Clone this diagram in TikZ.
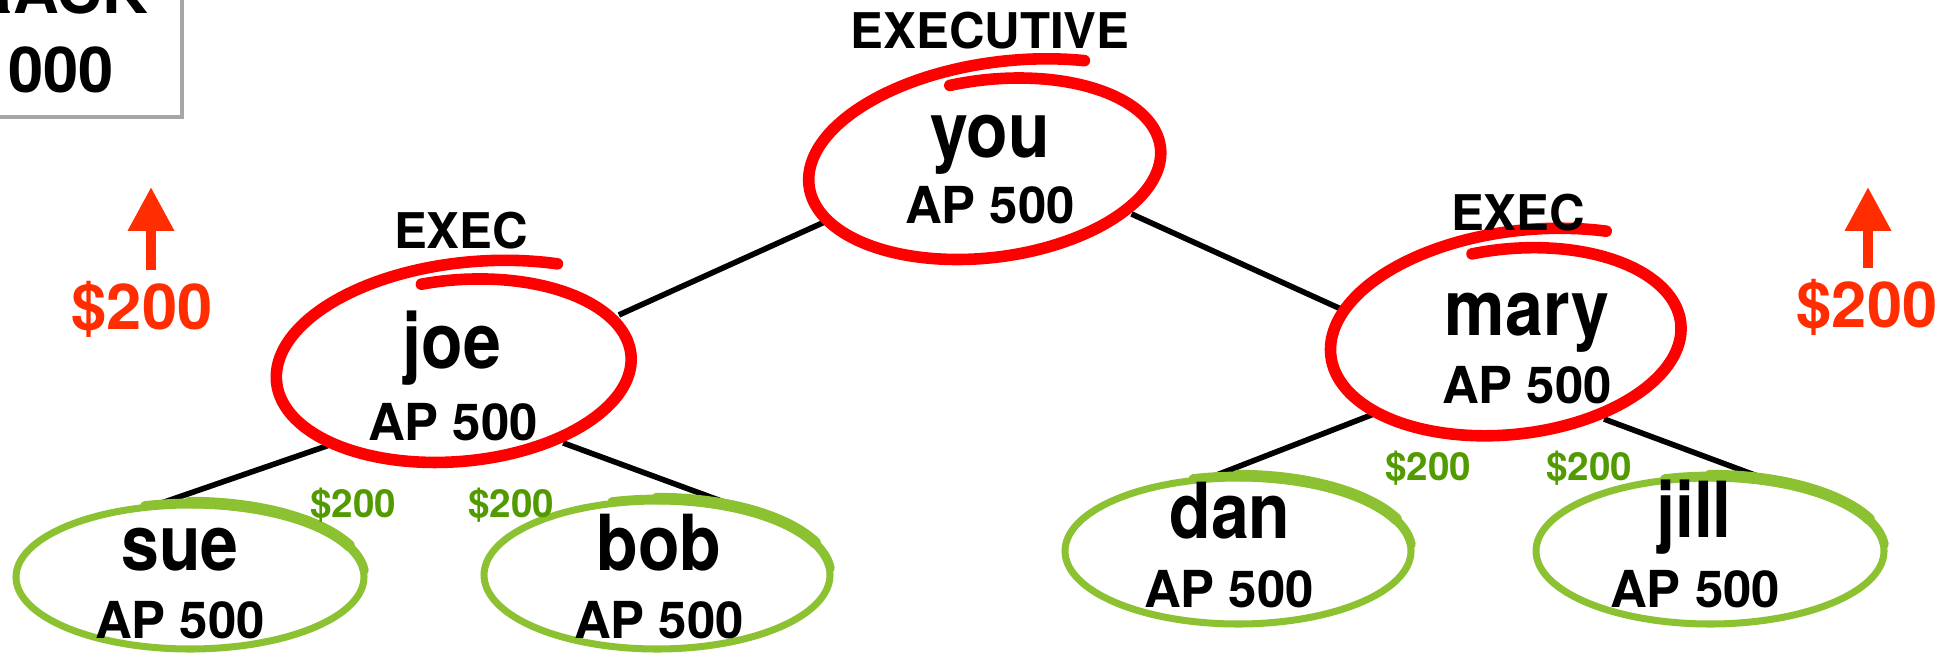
\documentclass[tikz,border=0pt]{standalone}
\usepackage{fontspec}
\setmainfont{TeX Gyre Heros}
\usetikzlibrary{shapes.geometric,arrows.meta}

\definecolor{payred}{RGB}{255,45,0}
\definecolor{ringgreen}{RGB}{140,194,50}
\definecolor{bonusgreen}{RGB}{81,154,0}

% hand drawn loops
\newcommand{\redloop}[5]{%
  \draw[redring, rotate around={#5:(#1,#2)}]
    plot[smooth, domain=-100:300, samples=110]
    ({#1+#3*(0.98+0.24*((\x+100)/400)^4)*cos(\x)},
     {#2+#4*(0.98+0.24*((\x+100)/400)^4)*sin(\x)});
}
\newcommand{\greenloop}[4]{%
  \draw[greenring] plot[smooth cycle, domain=0:355, samples=72]
    ({#1+#3*cos(\x)}, {#2+#4*sin(\x)});
  \draw[greenring, line width=5pt, line cap=round] plot[smooth, domain=-105:-5, samples=30]
    ({#1+(#3+1)*cos(\x)}, {#2+(#4+2)*sin(\x)});
  \draw[greenring, line width=6.5pt, line cap=round] plot[smooth, domain=-90:-25, samples=20]
    ({#1+(#3+1.5)*cos(\x)}, {#2+(#4+2.5)*sin(\x)});
}

\tikzset{
  ring/.style={ellipse, draw=none, inner sep=0pt, outer sep=0pt},
  who/.style={font=\fontsize{44}{44}\selectfont\bfseries, anchor=base, inner sep=0pt},
  pts/.style={font=\fontsize{29}{29}\selectfont\bfseries, anchor=base, inner sep=0pt},
  rank/.style={font=\fontsize{28}{28}\selectfont\bfseries, anchor=base, inner sep=0pt},
  bonus/.style={text=bonusgreen, font=\fontsize{22}{22}\selectfont\bfseries, anchor=base, inner sep=0pt},
  payout/.style={text=payred, font=\fontsize{36}{36}\selectfont\bfseries, anchor=base, inner sep=0pt},
  tally/.style={font=\fontsize{36}{36}\selectfont\bfseries, anchor=base, inner sep=0pt},
  tie/.style={line width=3.2pt, black},
  redring/.style={red, line width=6.6pt, line cap=round},
  greenring/.style={ringgreen, line width=4pt},
  rise/.style={payred, line width=5.7pt, shorten <=6pt, -{Triangle[width=25pt,length=25pt]}},
}

\begin{document}
\begin{tikzpicture}[x=0.02cm, y=-0.02cm]
	\useasboundingbox (0,0) rectangle (1946,656);
	\clip (0,0) rectangle (1946,656);
	% score box
	\draw[gray!70, line width=2.8pt] (-60,-60) rectangle (182,117);
	\node[tally] (tally-top) at (58,13) {RACK};
	\node[tally] (tally-num) at (61,92) {000};
	% ring anchors
	\node[ring, rotate=7, minimum width=7.2cm, minimum height=3.8cm] (you) at (990,168) {};
	\node[ring, rotate=5, minimum width=7.24cm, minimum height=3.88cm] (joe) at (459,370) {};
	\node[ring, rotate=6, minimum width=7.16cm, minimum height=3.96cm] (mary) at (1511,341) {};
	\node[ring, minimum width=7.12cm, minimum height=3cm] (sue) at (190,577) {};
	\node[ring, minimum width=7.08cm, minimum height=3.08cm] (bob) at (657,575) {};
	\node[ring, minimum width=7.08cm, minimum height=3.04cm] (dan) at (1238,551) {};
	\node[ring, minimum width=7.12cm, minimum height=3.04cm] (jill) at (1710,551) {};
	% tree
	\draw[tie] (you.191) -- (joe.14);
	\draw[tie] (you.-25) -- (mary.164);
	\draw[tie] (joe.205) -- (sue.111);
	\draw[tie] (joe.-40) -- (bob.42);
	\draw[tie] (mary.202) -- (dan.107);
	\draw[tie] (mary.-46) -- (jill.53);
	% loops
	\redloop{990}{168}{175}{90}{7}
	\redloop{459}{370}{176}{92}{5}
	\redloop{1511}{341}{174}{94}{6}
	\greenloop{190}{577}{174}{72}
	\greenloop{657}{575}{173}{74}
	\greenloop{1238}{551}{173}{73}
	\greenloop{1710}{551}{174}{73}
	% labels
	\node[rank] (you-rank) at (990,48) {EXECUTIVE};
	\node[rank] (joe-rank) at (461,248) {EXEC};
	\node[rank] (mary-rank) at (1518,230) {EXEC};
	\node[who] (you-name) at (990,157) {\scalebox{0.88}[1]{you}};
	\node[pts] (you-pts) at (990,223) {AP 500};
	\node[who] (joe-name) at (452,368) {\scalebox{0.88}[1]{joe}};
	\node[pts] (joe-pts) at (453,440) {AP 500};
	\node[who] (mary-name) at (1527,335) {\scalebox{0.88}[1]{mary}};
	\node[pts] (mary-pts) at (1527,403) {AP 500};
	\node[who] (sue-name) at (180,570) {\scalebox{0.88}[1]{sue}};
	\node[pts] (sue-pts) at (180,638) {AP 500};
	\node[who] (bob-name) at (659,570) {\scalebox{0.88}[1]{bob}};
	\node[pts] (bob-pts) at (659,638) {AP 500};
	\node[who] (dan-name) at (1230,538) {\scalebox{0.88}[1]{dan}};
	\node[pts] (dan-pts) at (1229,607) {AP 500};
	\node[who] (jill-name) at (1694,537) {\scalebox{0.88}[1]{jill}};
	\node[pts] (jill-pts) at (1695,607) {AP 500};
	% bonuses
	\node[bonus] (sue-bonus) at (353,517) {\$200};
	\node[bonus] (bob-bonus) at (511,517) {\$200};
	\node[bonus] (dan-bonus) at (1428,480) {\$200};
	\node[bonus] (jill-bonus) at (1589,480) {\$200};
	\node[payout] (bonusL) at (142,329) {\$200};
	\node[payout] (bonusR) at (1867,327) {\$200};
	\coordinate (riseL) at (151,187);
	\coordinate (riseR) at (1868,187);
	\draw[rise] (bonusL.north -| riseL) -- (riseL);
	\draw[rise] (bonusR.north -| riseR) -- (riseR);
\end{tikzpicture}
\end{document}
